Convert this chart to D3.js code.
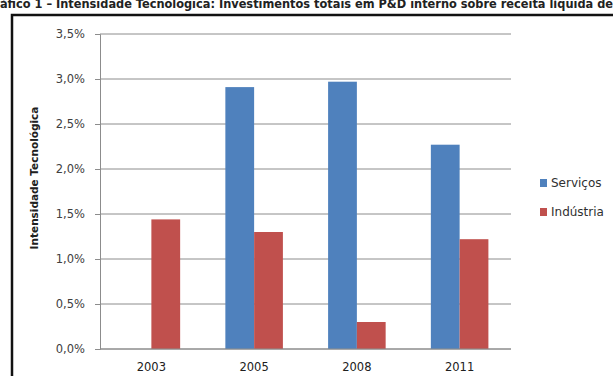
<!DOCTYPE html>
<html>
<head>
    <meta charset="utf-8">
    <title>intensidade-tecnologica</title>
    <style>
body { margin: 0; background: #fff; }
svg { display: block; }
.tick text { font-family: "DejaVu Sans", Verdana, sans-serif; fill: #404040; }
</style>
</head>
<body>
<script src="https://cdn.jsdelivr.net/npm/d3@7"></script>
<script>
// data (percent)
var years = ["2003", "2005", "2008", "2011"];
var seriesNames = ["Serviços", "Indústria"];
var servicos = [0, 2.91, 2.97, 2.27];
var industria = [1.44, 1.30, 0.30, 1.22];
var yTicks = [0, 0.5, 1.0, 1.5, 2.0, 2.5, 3.0, 3.5];
var colors = ["#4F81BD", "#C0504D"];

var totalWidth = 613, totalHeight = 376;
var plot = { left: 100, right: 511, top: 34, bottom: 349 };

var svg = d3.select("body").append("svg")
    .attr("width", totalWidth)
    .attr("height", totalHeight);

// caption, cut off by the top of the picture as in the source
svg.append("text")
    .attr("x", -15)
    .attr("y", 8)
    .attr("textLength", 628)
    .attr("lengthAdjust", "spacingAndGlyphs")
    .style("font-family", "'Liberation Sans Narrow', 'DejaVu Sans Condensed', sans-serif")
    .style("font-weight", "bold")
    .style("font-size", "13px")
    .style("fill", "#222")
    .text("Gráfico 1 – Intensidade Tecnológica: Investimentos totais em P&D interno sobre receita líquida de");

// chart frame (only top and left edges are visible)
svg.append("rect")
    .attr("x", 12)
    .attr("y", 15)
    .attr("width", 640)
    .attr("height", 400)
    .attr("fill", "#fff")
    .attr("stroke", "#111")
    .attr("stroke-width", 2.5);

var x0 = d3.scaleBand()
    .domain(years)
    .range([plot.left, plot.right])
    .paddingInner(0.44)
    .paddingOuter(0.22);

var x1 = d3.scaleBand()
    .domain(seriesNames)
    .range([0, x0.bandwidth()]);

var y = d3.scaleLinear()
    .domain([0, 3.5])
    .range([plot.bottom, plot.top]);

var fmt = function (d) { return d.toFixed(1).replace(".", ",") + "%"; };

// gridlines
svg.append("g")
    .selectAll("line")
    .data(yTicks)
    .enter()
    .append("line")
    .attr("x1", plot.left)
    .attr("x2", plot.right)
    .attr("y1", function (d) { return y(d); })
    .attr("y2", function (d) { return y(d); })
    .attr("stroke", "#8c8c8c")
    .attr("stroke-width", 1);

// y axis
var yAxis = svg.append("g")
    .attr("transform", "translate(" + plot.left + ",0)")
    .call(d3.axisLeft(y).tickValues(yTicks).tickFormat(fmt).tickSize(5).tickPadding(10));
yAxis.selectAll("line, path").attr("stroke", "#8c8c8c");
yAxis.selectAll("text").style("font-size", "11.5px");

// bars
var rows = years.map(function (yr, i) {
    return { year: yr, values: [servicos[i], industria[i]] };
});

var groups = svg.append("g")
    .selectAll("g")
    .data(rows)
    .enter()
    .append("g")
    .attr("transform", function (d) { return "translate(" + x0(d.year) + ",0)"; });

groups.selectAll("rect")
    .data(function (d) { return d.values.map(function (v, j) { return { name: seriesNames[j], value: v, k: j }; }); })
    .enter()
    .append("rect")
    .attr("x", function (d) { return x1(d.name); })
    .attr("width", x1.bandwidth())
    .attr("y", function (d) { return y(d.value); })
    .attr("height", function (d) { return plot.bottom - y(d.value); })
    .attr("fill", function (d) { return colors[d.k]; });

// x axis
var xAxis = svg.append("g")
    .attr("transform", "translate(0," + plot.bottom + ")")
    .call(d3.axisBottom(x0).tickSize(0).tickPadding(14));
xAxis.select(".domain").attr("stroke", "#8c8c8c").attr("d", "M" + plot.left + ",0H" + plot.right);
xAxis.selectAll("text").style("font-size", "11.5px").style("fill", "#202020");

// y axis title
svg.append("text")
    .attr("transform", "translate(38,178) rotate(-90)")
    .attr("text-anchor", "middle")
    .style("font-family", "'DejaVu Sans', Verdana, sans-serif")
    .style("font-weight", "bold")
    .style("font-size", "10.5px")
    .style("fill", "#202020")
    .text("Intensidade Tecnológica");

// legend
var legend = svg.append("g")
    .selectAll("g")
    .data(seriesNames)
    .enter()
    .append("g")
    .attr("transform", function (d, i) { return "translate(540," + (183 + i * 29) + ")"; });

legend.append("rect")
    .attr("x", 0)
    .attr("y", -4)
    .attr("width", 7)
    .attr("height", 8)
    .attr("fill", function (d, i) { return colors[i]; });

legend.append("text")
    .attr("x", 11)
    .attr("dy", "0.35em")
    .style("font-family", "'DejaVu Sans', Verdana, sans-serif")
    .style("font-size", "12px")
    .style("fill", "#303030")
    .text(function (d) { return d; });
</script>
</body>
</html>
